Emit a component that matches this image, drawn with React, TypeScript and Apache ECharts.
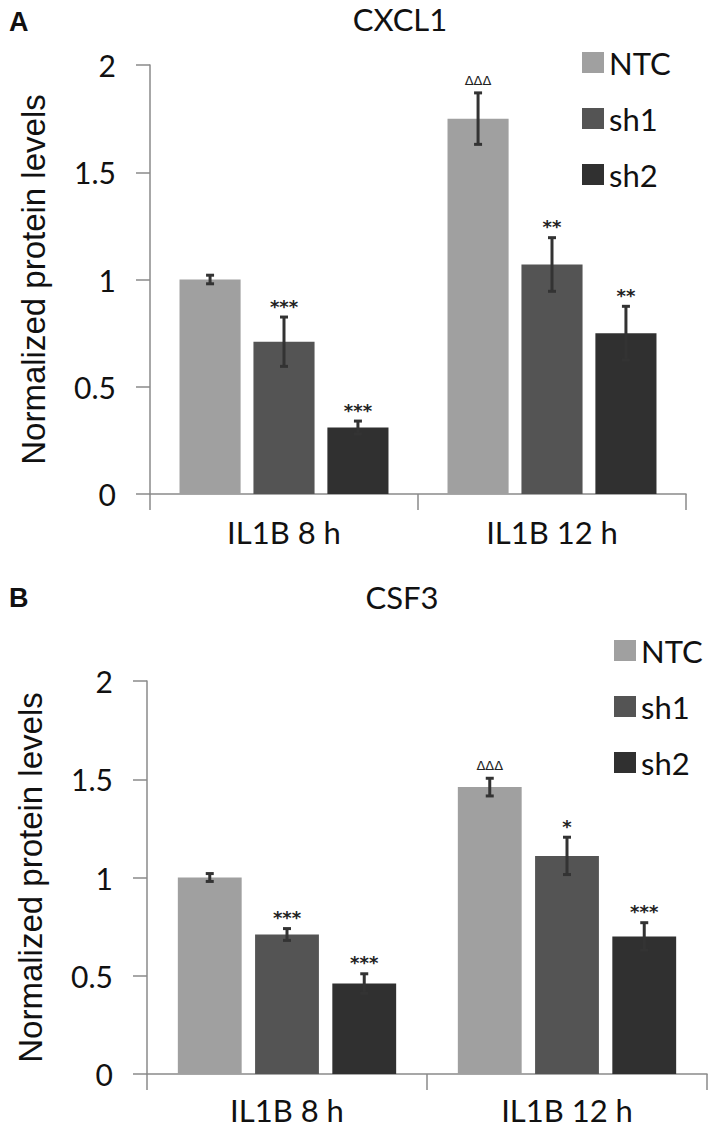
import React, { useEffect, useRef } from "react";
import * as echarts from "echarts";

const categories = ["IL1B 8 h", "IL1B 12 h"];
const seriesNames = ["NTC", "sh1", "sh2"];
const barColors = ["#a0a0a0", "#545454", "#303030"];

// Panel A — CXCL1
const cxcl1NTC = [1.0, 1.75];
const cxcl1Sh1 = [0.71, 1.07];
const cxcl1Sh2 = [0.31, 0.75];
const cxcl1NTCErr = [0.02, 0.12];
const cxcl1Sh1Err = [0.115, 0.125];
const cxcl1Sh2Err = [0.03, 0.125];
const cxcl1NTCSig = ["", "ΔΔΔ"];
const cxcl1Sh1Sig = ["***", "**"];
const cxcl1Sh2Sig = ["***", "**"];

// Panel B — CSF3
const csf3NTC = [1.0, 1.46];
const csf3Sh1 = [0.71, 1.11];
const csf3Sh2 = [0.46, 0.7];
const csf3NTCErr = [0.02, 0.045];
const csf3Sh1Err = [0.03, 0.095];
const csf3Sh2Err = [0.05, 0.07];
const csf3NTCSig = ["", "ΔΔΔ"];
const csf3Sh1Sig = ["***", "*"];
const csf3Sh2Sig = ["***", "***"];

const yMin = 0;
const yMax = 2;
const yInterval = 0.5;

const BAR_FRAC = 0.228;
const GAP_FRAC = 0.21;
const AXIS_COLOR = "#8a8a8a";
const TEXT_COLOR = "#111111";
const ERR_COLOR = "#333333";

function errorSeries(gridIdx: number, seriesIdx: number, values: number[], errs: number[], sigs: string[]) {
  return {
    type: "custom",
    xAxisIndex: gridIdx,
    yAxisIndex: gridIdx,
    z: 10,
    silent: true,
    data: values.map((v, i) => [i, v - errs[i], v + errs[i]]),
    encode: { x: 0, y: [1, 2] },
    renderItem: (params: any, api: any) => {
      const ci = api.value(0);
      const lo = api.coord([ci, api.value(1)]);
      const hi = api.coord([ci, api.value(2)]);
      const band = api.size([1, 0])[0];
      const bw = band * BAR_FRAC;
      const gap = bw * GAP_FRAC;
      const x = lo[0] + (seriesIdx - 1) * (bw + gap);
      const cap = 4;
      const sig = sigs[params.dataIndex];
      const isDelta = sig.indexOf("Δ") >= 0;
      const children: any[] = [
        { type: "line", shape: { x1: x, y1: hi[1], x2: x, y2: lo[1] }, style: { stroke: ERR_COLOR, lineWidth: 3 } },
        { type: "line", shape: { x1: x - cap, y1: hi[1], x2: x + cap, y2: hi[1] }, style: { stroke: ERR_COLOR, lineWidth: 3 } },
        { type: "line", shape: { x1: x - cap, y1: lo[1], x2: x + cap, y2: lo[1] }, style: { stroke: ERR_COLOR, lineWidth: 3 } },
      ];
      if (sig) {
        children.push({
          type: "text",
          x: x,
          y: hi[1] - (isDelta ? 6 : 2),
          style: {
            text: sig,
            fill: "#222222",
            font: isDelta ? "13px 'DejaVu Sans'" : "bold 18px 'DejaVu Sans'",
            align: "center",
            verticalAlign: "bottom",
          },
        });
      }
      return { type: "group", children };
    },
  };
}

function barSeries(gridIdx: number, seriesIdx: number, values: number[]) {
  return {
    type: "bar",
    name: seriesNames[seriesIdx],
    xAxisIndex: gridIdx,
    yAxisIndex: gridIdx,
    data: values,
    barWidth: (BAR_FRAC * 100).toFixed(1) + "%",
    barGap: (GAP_FRAC * 100).toFixed(0) + "%",
    itemStyle: { color: barColors[seriesIdx] },
  };
}

function xAxisCfg(gridIdx: number, margin: number) {
  return {
    type: "category",
    gridIndex: gridIdx,
    data: categories,
    axisLine: { show: true, lineStyle: { color: AXIS_COLOR, width: 1.5 } },
    axisTick: { show: true, length: 16, lineStyle: { color: AXIS_COLOR, width: 1.5 } },
    axisLabel: { fontSize: 31, lineHeight: 31, color: TEXT_COLOR, fontFamily: "Lato", margin },
  };
}

function yAxisCfg(gridIdx: number) {
  return {
    type: "value",
    gridIndex: gridIdx,
    min: yMin,
    max: yMax,
    interval: yInterval,
    name: "Normalized protein levels",
    nameLocation: "middle",
    nameGap: 100,
    nameTextStyle: { fontSize: 33, color: TEXT_COLOR, fontFamily: "Liberation Sans" },
    axisLine: { show: true, lineStyle: { color: AXIS_COLOR, width: 1.5 } },
    axisTick: { show: true, length: 14, lineStyle: { color: AXIS_COLOR, width: 1.5 } },
    splitLine: { show: false },
    axisLabel: { fontSize: 30, color: TEXT_COLOR, fontFamily: "Lato", margin: 34 },
  };
}

function legendCfg(left: number, top: number) {
  return {
    orient: "vertical",
    left,
    top,
    itemWidth: 22,
    itemHeight: 21,
    itemGap: 25,
    icon: "rect",
    data: seriesNames,
    selectedMode: false,
    textStyle: { fontSize: 31, lineHeight: 30, color: TEXT_COLOR, fontFamily: "Lato" },
  };
}

export default function App() {
  const ref = useRef<HTMLDivElement>(null);
  useEffect(() => {
    if (!ref.current) return;
    const chart = echarts.init(ref.current, undefined, { renderer: "svg" });
    chart.setOption({
      animation: false,
      backgroundColor: "#ffffff",
      grid: [
        { left: 150, right: 23, top: 65, bottom: 635 },
        { left: 147, right: 2, top: 681, bottom: 55 },
      ],
      xAxis: [xAxisCfg(0, 22), xAxisCfg(1, 20)],
      yAxis: [yAxisCfg(0), yAxisCfg(1)],
      legend: [legendCfg(577, 42), legendCfg(609, 630)],
      graphic: [
        { type: "text", left: 9, top: 8, style: { text: "A", font: "bold 27px 'Liberation Sans'", fill: TEXT_COLOR } },
        { type: "text", left: 9, top: 584, style: { text: "B", font: "bold 27px 'Liberation Sans'", fill: TEXT_COLOR } },
        { type: "text", x: 400, y: 3, style: { text: "CXCL1", font: "31px Lato", fill: TEXT_COLOR, align: "center", verticalAlign: "top" } },
        { type: "text", x: 402, y: 581, style: { text: "CSF3", font: "31px Lato", fill: TEXT_COLOR, align: "center", verticalAlign: "top" } },
      ],
      series: [
        barSeries(0, 0, cxcl1NTC),
        barSeries(0, 1, cxcl1Sh1),
        barSeries(0, 2, cxcl1Sh2),
        errorSeries(0, 0, cxcl1NTC, cxcl1NTCErr, cxcl1NTCSig),
        errorSeries(0, 1, cxcl1Sh1, cxcl1Sh1Err, cxcl1Sh1Sig),
        errorSeries(0, 2, cxcl1Sh2, cxcl1Sh2Err, cxcl1Sh2Sig),
        barSeries(1, 0, csf3NTC),
        barSeries(1, 1, csf3Sh1),
        barSeries(1, 2, csf3Sh2),
        errorSeries(1, 0, csf3NTC, csf3NTCErr, csf3NTCSig),
        errorSeries(1, 1, csf3Sh1, csf3Sh1Err, csf3Sh1Sig),
        errorSeries(1, 2, csf3Sh2, csf3Sh2Err, csf3Sh2Sig),
      ],
    });
    return () => chart.dispose();
  }, []);
  return <div ref={ref} style={{ position: "absolute", left: 0, top: 0, width: 709, height: 1129 }} />;
}
